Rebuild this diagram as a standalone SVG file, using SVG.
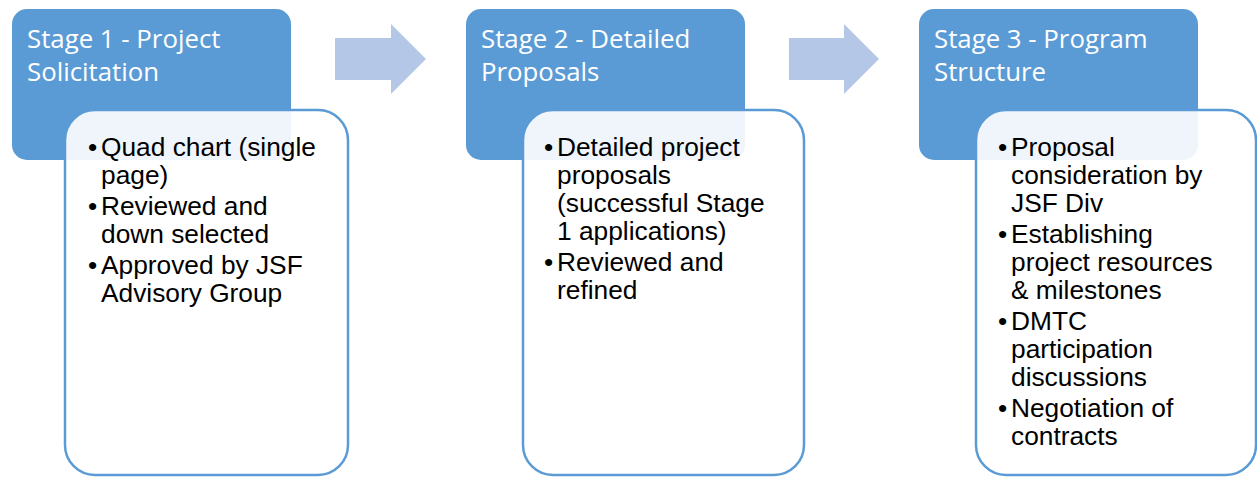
<svg xmlns="http://www.w3.org/2000/svg" width="1257" height="477" viewBox="0 0 1257 477">
<style>
.hdr{fill:#5B9BD5}
.card{fill:#FFFFFF;fill-opacity:0.9;stroke:#5B9BD5;stroke-width:2.5}
.arrow{fill:#B4C7E7}
.title{font-family:"Open Sans","Noto Sans",sans-serif;font-size:25.8px;fill:#FFFFFF}
.body{font-family:"Liberation Sans",Arial,sans-serif;font-size:26.3px;fill:#000000}
</style>
<rect width="1257" height="477" fill="#FFFFFF"/>
<g id="connectors">
<polygon class="arrow" points="335,38 391,38 391,24 426,59 391,94 391,80 335,80"/>
<polygon class="arrow" points="789,38 844,38 844,24 879,59 844,94 844,80 789,80"/>
</g>
<g id="stage1">
<rect class="hdr" x="12" y="9" width="279" height="151" rx="15"/>
<text class="title" x="27" y="48">Stage 1 - Project</text>
<text class="title" x="27" y="81">Solicitation</text>
<rect class="card" x="65" y="110" width="283" height="365" rx="30"/>
<text class="body"><tspan x="88" y="156">•</tspan><tspan x="101" y="156">Quad chart (single</tspan><tspan x="101" y="184">page)</tspan><tspan x="88" y="215">•</tspan><tspan x="101" y="215">Reviewed and</tspan><tspan x="101" y="243">down selected</tspan><tspan x="88" y="274">•</tspan><tspan x="101" y="274">Approved by JSF</tspan><tspan x="101" y="302">Advisory Group</tspan></text>
</g>
<g id="stage2">
<rect class="hdr" x="466" y="9" width="279" height="151" rx="15"/>
<text class="title" x="481" y="48">Stage 2 - Detailed</text>
<text class="title" x="481" y="81">Proposals</text>
<rect class="card" x="523" y="110" width="281" height="365" rx="30"/>
<text class="body"><tspan x="544" y="156">•</tspan><tspan x="557" y="156">Detailed project</tspan><tspan x="557" y="184">proposals</tspan><tspan x="557" y="212">(successful Stage</tspan><tspan x="557" y="240">1 applications)</tspan><tspan x="544" y="271">•</tspan><tspan x="557" y="271">Reviewed and</tspan><tspan x="557" y="299">refined</tspan></text>
</g>
<g id="stage3">
<rect class="hdr" x="919" y="9" width="279" height="151" rx="15"/>
<text class="title" x="934" y="48">Stage 3 - Program</text>
<text class="title" x="934" y="81">Structure</text>
<rect class="card" x="976" y="110" width="280" height="365" rx="30"/>
<text class="body"><tspan x="998" y="156">•</tspan><tspan x="1011" y="156">Proposal</tspan><tspan x="1011" y="184">consideration by</tspan><tspan x="1011" y="212">JSF Div</tspan><tspan x="998" y="243">•</tspan><tspan x="1011" y="243">Establishing</tspan><tspan x="1011" y="271">project resources</tspan><tspan x="1011" y="299">&amp; milestones</tspan><tspan x="998" y="330">•</tspan><tspan x="1011" y="330">DMTC</tspan><tspan x="1011" y="358">participation</tspan><tspan x="1011" y="386">discussions</tspan><tspan x="998" y="417">•</tspan><tspan x="1011" y="417">Negotiation of</tspan><tspan x="1011" y="445">contracts</tspan></text>
</g>
</svg>
